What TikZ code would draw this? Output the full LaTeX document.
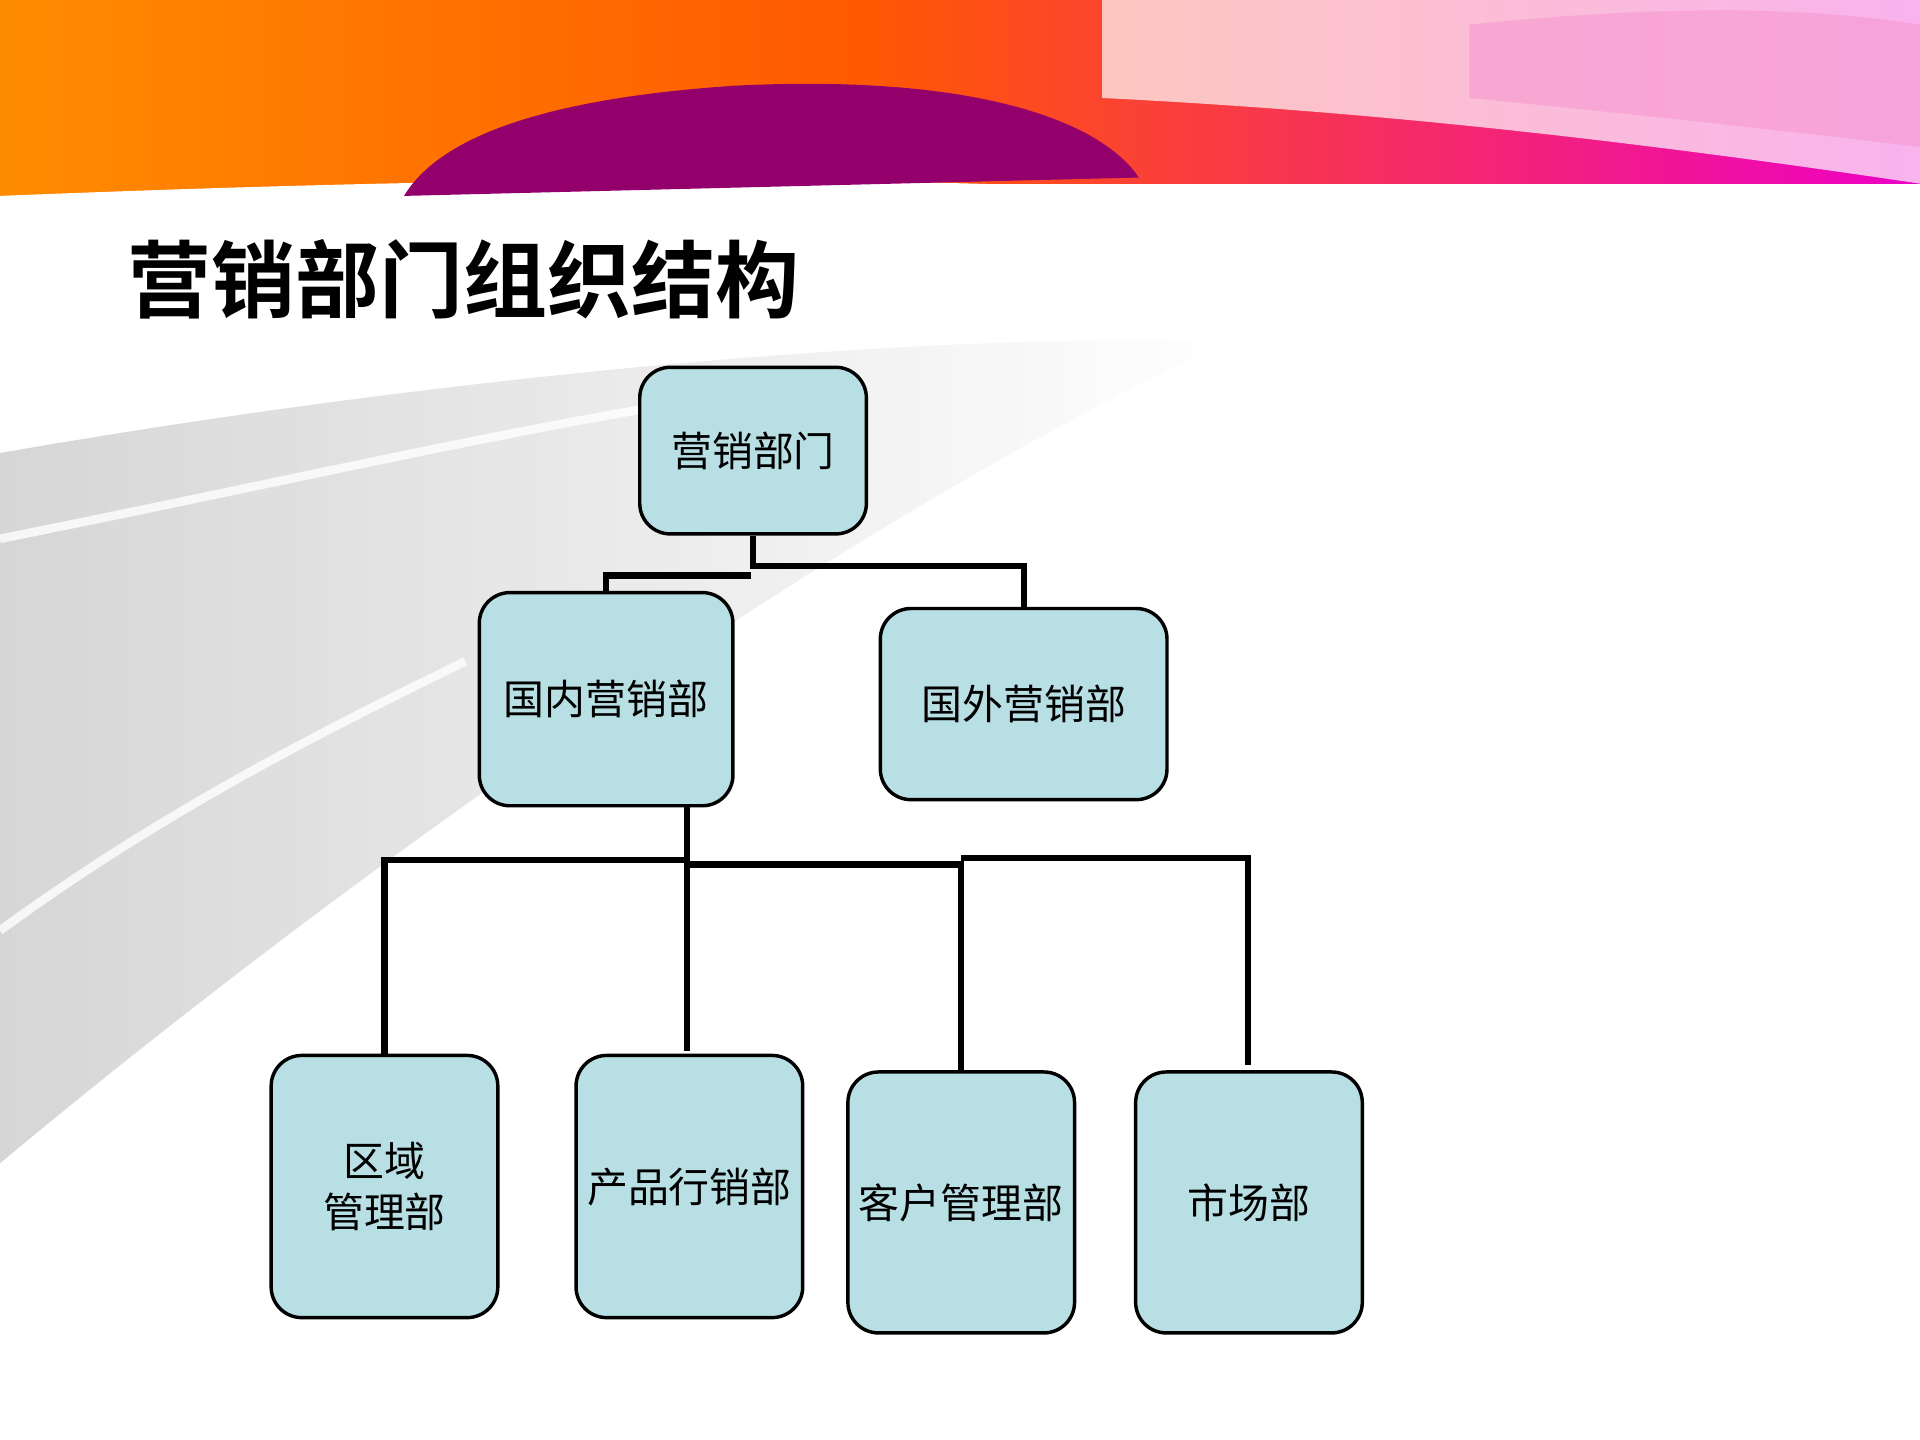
\documentclass[tikz,border=0pt]{standalone}
\usepackage{fontspec}
\newfontfamily\cjk{Noto Sans CJK SC}
\newfontfamily\cjkb{Noto Sans CJK SC Bold}
\begin{document}
\begin{tikzpicture}[x=0.01cm,y=-0.01cm,
  box/.style={draw=black,line width=0.8pt,fill=boxc,rounded corners=0.25cm,inner sep=0pt,align=center,font=\cjk\fontsize{9.5pt}{12pt}\selectfont},
  conn/.style={line width=1.4pt}]
\definecolor{boxc}{RGB}{184,223,227}
\useasboundingbox (0,0) rectangle (1568,1176);
\fill[white] (0,0) rectangle (1568,1176);
% top band
\shade[left color=orange!90!yellow,right color=orange!70!red] (0,0) rectangle (700,160);
\shade[left color=orange!70!red,right color=magenta!70!purple] (700,0) rectangle (1568,150);
\fill[white] (0,160) .. controls (500,140) and (1100,130) .. (1568,230) -- (1568,1176) -- (0,1176) -- cycle;
\fill[violet!70!purple] (330,160) .. controls (360,110) and (450,80) .. (600,70) .. controls (800,60) and (900,100) .. (930,145) -- cycle;
\fill[white,opacity=0.7] (900,0) -- (1568,0) -- (1568,150) .. controls (1300,110) and (1100,90) .. (900,80) -- cycle;
\fill[magenta!40,opacity=0.6] (1200,20) .. controls (1400,0) and (1500,10) .. (1568,20) -- (1568,120) .. controls (1400,100) and (1300,90) .. (1200,80) -- cycle;
% gray swoosh
\shade[left color=gray!40,right color=white,opacity=0.8] (0,370) .. controls (400,300) and (800,270) .. (1000,280) .. controls (700,420) and (300,700) .. (0,950) -- cycle;
\draw[white,line width=2pt,opacity=0.8] (0,440) .. controls (300,380) and (500,330) .. (700,310);
\draw[white,line width=2pt,opacity=0.8] (0,760) .. controls (150,650) and (300,580) .. (380,540);
% title
\node[anchor=west,font=\cjkb\fontsize{19.5pt}{22pt}\selectfont] (title) at (92,228) {营销部门组织结构};
% nodes
\node[box,minimum width=1.85cm,minimum height=1.36cm] (top) at (615,368) {营销部门};
\node[box,minimum width=2.07cm,minimum height=1.74cm] (dom) at (495,571) {国内营销部};
\node[box,minimum width=2.34cm,minimum height=1.56cm] (for) at (836,575) {国外营销部};
\node[box,minimum width=1.85cm,minimum height=2.14cm] (a) at (314,969) {区域\\管理部};
\node[box,minimum width=1.85cm,minimum height=2.14cm] (b) at (563,969) {产品行销部};
\node[box,minimum width=1.85cm,minimum height=2.13cm] (c) at (785,982) {客户管理部};
\node[box,minimum width=1.85cm,minimum height=2.13cm] (d) at (1020,982) {市场部};
% connectors
\coordinate (j1) at (615,462);
\draw[conn] (top.south) -- (j1) -| (for.north);
\draw[conn] (613,470) -| (dom.north);
\coordinate (j2) at (561,702);
\draw[conn] (dom.south -| j2) -- (j2) -| (a.north);
\draw[conn] (j2) -- (561,858);
\draw[conn] (561,706) -- (785,706) -- (c.north);
\draw[conn] (785,701) -| (1019,870);
\end{tikzpicture}
\end{document}
